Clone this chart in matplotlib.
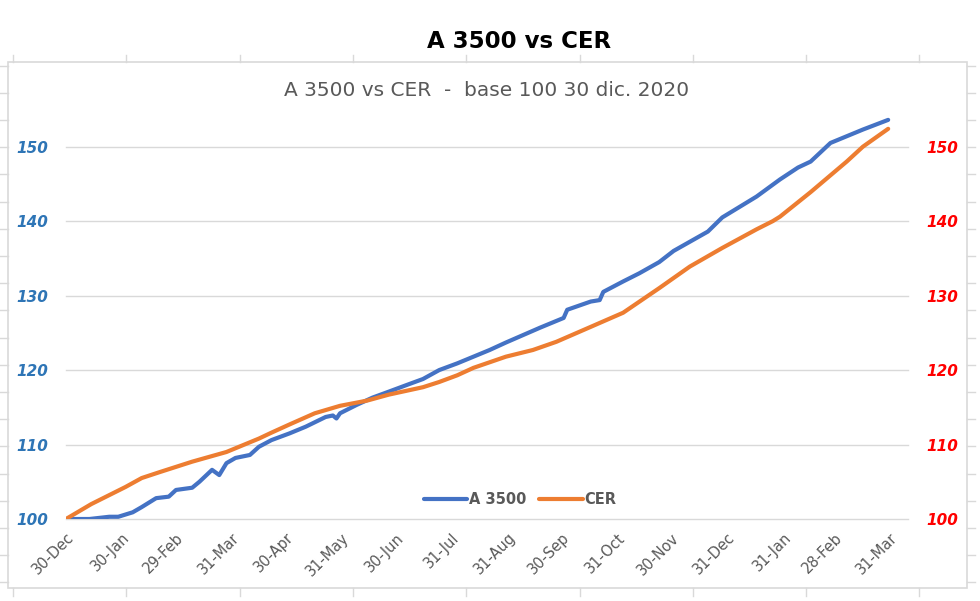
import matplotlib
matplotlib.use("Agg")
import matplotlib.pyplot as plt
import pandas as pd
from matplotlib.lines import Line2D
from matplotlib.patches import Rectangle

# ---- data ----
a3500_dates = ["2019-12-30", "2020-01-12", "2020-01-23", "2020-01-28", "2020-02-05",
               "2020-02-10", "2020-02-18", "2020-02-25", "2020-02-29", "2020-03-09",
               "2020-03-13", "2020-03-20", "2020-03-24", "2020-03-28", "2020-04-02",
               "2020-04-10", "2020-04-15", "2020-04-22", "2020-05-02", "2020-05-11",
               "2020-05-22", "2020-05-26", "2020-05-28", "2020-05-30", "2020-06-08",
               "2020-06-17", "2020-06-26", "2020-07-06", "2020-07-15", "2020-07-24",
               "2020-08-03", "2020-08-21", "2020-08-30", "2020-09-18", "2020-10-01",
               "2020-10-03", "2020-10-16", "2020-10-21", "2020-10-23", "2020-11-03",
               "2020-11-12", "2020-11-23", "2020-12-01", "2020-12-20", "2020-12-28",
               "2021-01-16", "2021-01-29", "2021-02-08", "2021-02-15", "2021-02-26",
               "2021-03-16", "2021-03-30"]
a3500_values = [100.0, 100.0, 100.3, 100.3, 100.9,
                101.6, 102.8, 103.0, 103.9, 104.2,
                105.0, 106.6, 105.9, 107.5, 108.2,
                108.6, 109.7, 110.6, 111.5, 112.4,
                113.7, 113.9, 113.5, 114.2, 115.3,
                116.3, 117.1, 118.0, 118.8, 120.0,
                120.9, 122.7, 123.7, 125.7, 127.0,
                128.1, 129.2, 129.4, 130.5, 131.9,
                133.0, 134.5, 136.0, 138.6, 140.5,
                143.3, 145.6, 147.2, 148.0, 150.5,
                152.3, 153.6]

cer_dates = ["2019-12-30", "2020-01-13", "2020-02-01", "2020-02-10", "2020-02-20",
             "2020-03-09", "2020-03-28", "2020-04-15", "2020-04-22", "2020-05-02",
             "2020-05-16", "2020-05-30", "2020-06-14", "2020-06-26", "2020-07-15",
             "2020-07-24", "2020-08-03", "2020-08-12", "2020-08-30", "2020-09-14",
             "2020-09-27", "2020-10-16", "2020-11-03", "2020-11-23", "2020-12-10",
             "2020-12-28", "2021-01-16", "2021-01-25", "2021-01-29", "2021-02-15",
             "2021-03-07", "2021-03-16", "2021-03-30"]
cer_values = [100.0, 102.0, 104.3, 105.5, 106.3,
              107.7, 109.0, 110.8, 111.6, 112.7,
              114.2, 115.2, 115.9, 116.7, 117.7,
              118.4, 119.3, 120.3, 121.8, 122.7,
              123.8, 125.8, 127.7, 131.0, 133.9,
              136.4, 138.9, 140.0, 140.6, 143.9,
              148.0, 150.0, 152.4]

tick_dates = ["2019-12-30", "2020-01-30", "2020-02-29", "2020-03-31", "2020-04-30",
              "2020-05-31", "2020-06-30", "2020-07-31", "2020-08-31", "2020-09-30",
              "2020-10-31", "2020-11-30", "2020-12-31", "2021-01-31", "2021-02-28",
              "2021-03-31"]
tick_labels = ["30-Dec", "30-Jan", "29-Feb", "31-Mar", "30-Apr", "31-May", "30-Jun",
               "31-Jul", "31-Aug", "30-Sep", "31-Oct", "30-Nov", "31-Dec", "31-Jan",
               "28-Feb", "31-Mar"]
y_ticks = [100, 110, 120, 130, 140, 150]

title = "A 3500 vs CER"
subtitle = "A 3500 vs CER  -  base 100 30 dic. 2020"

# ---- figure ----
W, H = 980, 601
fig = plt.figure(figsize=(W / 100, H / 100), dpi=100)
fig.patch.set_facecolor("white")

def px(x, y):
    return x / W, 1 - y / H

# outer chart frame
x0, y0 = px(8, 62)
x1, y1 = px(967, 588)
fig.add_artist(Rectangle((x0, y1), x1 - x0, y0 - y1, transform=fig.transFigure,
                         fill=False, edgecolor="#D9D9D9", linewidth=1.2))
# spreadsheet cell ticks around the frame
for k in range(-2, 18):
    yy = 120 + 27.2 * k
    if 62 < yy < 588:
        a, b = px(0, yy); c, _ = px(8, yy)
        fig.add_artist(Line2D([a, c], [b, b], transform=fig.transFigure, color="#D9D9D9", lw=1))
        a, b = px(967, yy); c, _ = px(975, yy)
        fig.add_artist(Line2D([a, c], [b, b], transform=fig.transFigure, color="#D9D9D9", lw=1))
for k in range(9):
    xx = 13 + 113.3 * k
    a, b = px(xx, 55); _, d = px(xx, 62)
    fig.add_artist(Line2D([a, a], [b, d], transform=fig.transFigure, color="#D9D9D9", lw=1))
    a, b = px(xx, 588); _, d = px(xx, 596)
    fig.add_artist(Line2D([a, a], [b, d], transform=fig.transFigure, color="#D9D9D9", lw=1))

left, bottom = 66 / W, (H - 519) / H
top = (H - 102) / H
right = 908 / W
ax = fig.add_axes([left, bottom, right - left, top - bottom])

xa = pd.to_datetime(a3500_dates)
xc = pd.to_datetime(cer_dates)
xt = pd.to_datetime(tick_dates)

ax.plot(xa, a3500_values, color="#4472C4", lw=3.0, label="A 3500",
        solid_capstyle="round", solid_joinstyle="round", zorder=3)
ax.plot(xc, cer_values, color="#ED7D31", lw=3.0, label="CER",
        solid_capstyle="round", solid_joinstyle="round", zorder=3)

xmin = pd.Timestamp("2019-12-30")
xmax = xmin + pd.Timedelta(days=467)
ax.set_xlim(xmin, xmax)
ax.set_ylim(100, 156)

ax.set_yticks(y_ticks)
ax.set_yticklabels([str(v) for v in y_ticks], color="#2E75B6", fontsize=11,
                   fontweight="bold", fontstyle="italic")
ax.tick_params(axis="y", length=0, pad=13)
ax.set_xticks(xt)
ax.set_xticklabels(tick_labels, rotation=45, ha="right", rotation_mode="anchor",
                   color="#595959", fontsize=10.5)
ax.tick_params(axis="x", length=0, pad=8)
ax.grid(axis="y", color="#D9D9D9", lw=1, clip_on=False)
for gl in ax.get_ygridlines():
    gl.set_clip_on(False)
ax.set_axisbelow(True)
for s in ax.spines.values():
    s.set_visible(False)

ax2 = ax.twinx()
ax2.set_ylim(ax.get_ylim())
ax2.set_yticks(y_ticks)
ax2.set_yticklabels([str(v) for v in y_ticks], color="#FF0000", fontsize=11,
                    fontweight="bold", fontstyle="italic")
ax2.tick_params(axis="y", length=0, pad=13)
for s in ax2.spines.values():
    s.set_visible(False)

lx, ly = px(520, 500)
leg = ax.legend(loc="center", bbox_to_anchor=(lx, ly),
                bbox_transform=fig.transFigure, ncol=2, frameon=False,
                handlelength=3.0, handletextpad=0.1, columnspacing=0.9,
                prop={"weight": "bold", "size": 10.5})
for t in leg.get_texts():
    t.set_color("#595959")

fig.text(px(519, 42)[0], px(519, 42)[1], title, ha="center", va="center",
         fontsize=16.5, fontweight="bold", color="black")
fig.text(px(487, 91)[0], px(487, 91)[1], subtitle, ha="center", va="center",
         fontsize=14.5, color="#595959")

fig.savefig("out.png", dpi=100)
